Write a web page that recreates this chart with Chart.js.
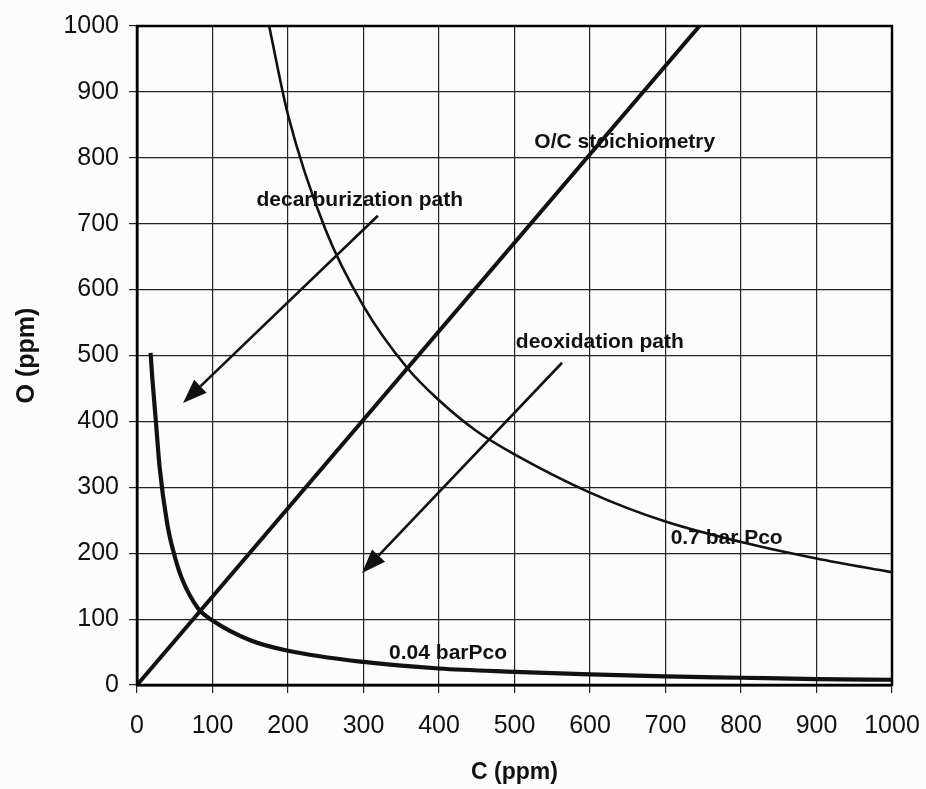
<!DOCTYPE html>
<html>
<head>
<meta charset="utf-8">
<script src="https://cdn.jsdelivr.net/npm/chart.js@4.4.1/dist/chart.umd.min.js"></script>
<style>
  html, body { margin: 0; padding: 0; background: #fcfcfc; }
  #wrap { width: 926px; height: 789px; }
</style>
</head>
<body>
<div id="wrap"><canvas id="c" width="926" height="789"></canvas></div>
<script>
// Axis ticks (ppm)
const xTicks = [0, 100, 200, 300, 400, 500, 600, 700, 800, 900, 1000];
const yTicks = [0, 100, 200, 300, 400, 500, 600, 700, 800, 900, 1000];

// Equilibrium curve at 0.7 bar CO partial pressure
const pco07C = [175, 200, 250, 300, 358, 400, 450, 500, 600, 700, 800, 900, 1000];
const pco07O = [1000, 865, 690, 575, 481, 432, 385, 350, 292, 248, 217, 192, 171];

// Equilibrium curve at 0.04 bar CO partial pressure
const pco004C = [18, 20, 25, 30, 40, 50, 60, 81, 100, 150, 200, 300, 400, 500, 600, 700, 800, 900, 1000];
const pco004O = [504, 470, 400, 330, 245, 195, 160, 116, 98, 68, 52, 35, 25, 20, 16, 13, 11, 9, 8];

// O/C stoichiometric line
const stoichC = [0, 745];
const stoichO = [0, 1000];

// Path arrows (tail -> head), in ppm
const arrowTailC = [319, 563];
const arrowTailO = [712, 489];
const arrowHeadC = [61, 298];
const arrowHeadO = [428, 170];

// In-plot labels, centred on (C, O)
const labelTexts = ['decarburization path', 'O/C stoichiometry', 'deoxidation path', '0.7 bar Pco', '0.04 barPco'];
const labelC = [295, 646, 613, 781, 412];
const labelO = [736, 824, 520, 223, 49];

const FONT = 'Arial, "Liberation Sans", Helvetica, sans-serif';
const INK = '#111';

const toXY = (cs, os) => cs.map((c, i) => ({ x: c, y: os[i] }));

const overlay = {
  id: 'overlay',
  afterDatasetsDraw(chart) {
    const { ctx, chartArea: a, scales: { x, y } } = chart;
    ctx.save();
    // plot frame
    ctx.strokeStyle = '#000';
    ctx.lineWidth = 2.5;
    ctx.strokeRect(a.left, a.top, a.right - a.left, a.bottom - a.top);

    // arrows
    ctx.strokeStyle = INK;
    ctx.fillStyle = INK;
    for (let i = 0; i < arrowTailC.length; i++) {
      const x0 = x.getPixelForValue(arrowTailC[i]), y0 = y.getPixelForValue(arrowTailO[i]);
      const x1 = x.getPixelForValue(arrowHeadC[i]), y1 = y.getPixelForValue(arrowHeadO[i]);
      const ang = Math.atan2(y1 - y0, x1 - x0);
      const len = 24, half = 9;
      const bx = x1 - len * Math.cos(ang), by = y1 - len * Math.sin(ang);
      ctx.lineWidth = 2.6;
      ctx.beginPath();
      ctx.moveTo(x0, y0);
      ctx.lineTo(bx, by);
      ctx.stroke();
      ctx.beginPath();
      ctx.moveTo(x1, y1);
      ctx.lineTo(bx + half * Math.sin(ang), by - half * Math.cos(ang));
      ctx.lineTo(bx - half * Math.sin(ang), by + half * Math.cos(ang));
      ctx.closePath();
      ctx.fill();
    }

    // labels
    ctx.font = 'bold 21px ' + FONT;
    ctx.textAlign = 'center';
    ctx.textBaseline = 'middle';
    ctx.fillStyle = INK;
    labelTexts.forEach((t, i) => {
      ctx.fillText(t, x.getPixelForValue(labelC[i]), y.getPixelForValue(labelO[i]));
    });
    ctx.restore();
  }
};

const bg = {
  id: 'bg',
  beforeDraw(chart) {
    const { ctx, width, height } = chart;
    ctx.save();
    ctx.fillStyle = '#fcfcfc';
    ctx.fillRect(0, 0, width, height);
    ctx.restore();
  }
};

new Chart(document.getElementById('c'), {
  type: 'scatter',
  data: {
    datasets: [
      {
        label: 'O/C stoichiometry',
        data: toXY(stoichC, stoichO),
        showLine: true, borderColor: INK, borderWidth: 4, pointRadius: 0
      },
      {
        label: '0.7 bar Pco',
        data: toXY(pco07C, pco07O),
        showLine: true, borderColor: INK, borderWidth: 2.6, pointRadius: 0,
        cubicInterpolationMode: 'monotone'
      },
      {
        label: '0.04 barPco',
        data: toXY(pco004C, pco004O),
        showLine: true, borderColor: INK, borderWidth: 4.2, pointRadius: 0,
        cubicInterpolationMode: 'monotone'
      }
    ]
  },
  options: {
    responsive: false,
    devicePixelRatio: 1,
    animation: false,
    layout: { padding: { top: 26, right: 34, left: 0, bottom: 0 } },
    plugins: { legend: { display: false }, tooltip: { enabled: false } },
    scales: {
      x: {
        type: 'linear', min: 0, max: 1000,
        afterBuildTicks: s => { s.ticks = xTicks.map(v => ({ value: v })); },
        afterFit: s => { s.height = 104; s.paddingLeft = 0; s.paddingRight = 0; },
        grid: { color: '#222', lineWidth: 1.2, tickLength: 8, tickColor: '#222' },
        border: { display: true, color: '#000', width: 2.5 },
        ticks: { color: INK, font: { family: FONT, size: 25 }, padding: 18, maxRotation: 0, callback: v => String(v) },
        title: { display: true, text: 'C (ppm)', color: INK, font: { family: FONT, size: 23, weight: 'bold' }, padding: { top: 0, bottom: 3 } }
      },
      y: {
        type: 'linear', min: 0, max: 1000,
        afterBuildTicks: s => { s.ticks = yTicks.map(v => ({ value: v })); },
        afterFit: s => { s.width = 137; s.paddingTop = 0; s.paddingBottom = 0; },
        grid: { color: '#222', lineWidth: 1.2, tickLength: 8, tickColor: '#222' },
        border: { display: true, color: '#000', width: 2.5 },
        ticks: { color: INK, font: { family: FONT, size: 25 }, padding: 10, callback: v => String(v) },
        title: { display: true, text: 'O (ppm)', color: INK, font: { family: FONT, size: 25, weight: 'bold' }, padding: { top: 12, bottom: 0 } }
      }
    }
  },
  plugins: [bg, overlay]
});
</script>
</body>
</html>
